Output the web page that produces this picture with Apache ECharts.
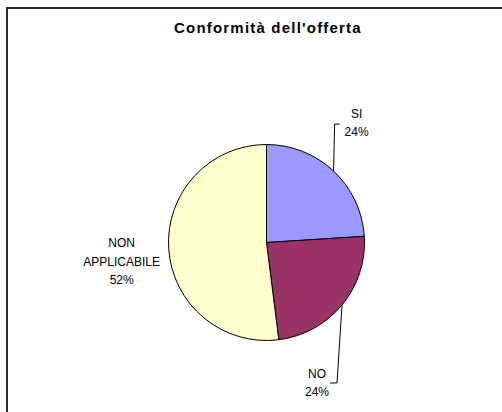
<!DOCTYPE html>
<html>
<head>
<meta charset="utf-8">
<script src="https://cdn.jsdelivr.net/npm/echarts@6/dist/echarts.min.js"></script>
<style>
  html, body { margin: 0; padding: 0; background: #fff; }
  #wrap { position: relative; width: 502px; height: 412px; overflow: hidden; background: #fff; }
  /* chart frame: only its top and left edges fall inside the view */
  #frame { position: absolute; left: 6px; top: 7px; width: 700px; height: 700px;
           border-top: 2px solid #2e2e2e; border-left: 2px solid #2e2e2e; box-sizing: border-box; }
  #chart { position: absolute; left: 0; top: 0; width: 502px; height: 412px; }
</style>
</head>
<body>
<div id="wrap">
  <div id="frame"></div>
  <div id="chart"></div>
</div>
<script>
// Data
const chartTitle = "Conformità dell'offerta";
const categories = ['SI', 'NO', 'NON APPLICABILE'];
const shares = [24, 24, 52];
const sliceColors = ['#9999FF', '#993366', '#FFFFCC'];

const FONT = "'Liberation Sans', Arial, Helvetica, sans-serif";

const chart = echarts.init(document.getElementById('chart'), null, { renderer: 'svg' });

const seriesData = categories.map((name, i) => ({
  name: name,
  value: shares[i],
  itemStyle: { color: sliceColors[i] },
  labelLine: { show: i !== 2 }
}));

// Label placement, measured from the slice's outer mid-point (first leader point)
function placeLabel(params) {
  const idx = params.dataIndex;
  const pts = params.labelLinePoints;
  const p0 = pts && pts[0] ? pts[0] : [params.rect.x, params.rect.y];
  if (idx === 0) {
    return {
      x: p0[0] + 23, y: p0[1] - 48, align: 'center', verticalAlign: 'middle',
      labelLinePoints: [p0, [p0[0] + 1, p0[1] - 47], [p0[0] + 6, p0[1] - 47]]
    };
  }
  if (idx === 1) {
    return {
      x: p0[0] - 25, y: p0[1] + 78, align: 'center', verticalAlign: 'middle',
      labelLinePoints: [p0, [p0[0] - 5, p0[1] + 78], [p0[0] - 12, p0[1] + 78]]
    };
  }
  return { x: p0[0] - 47, y: p0[1] + 13, align: 'center', verticalAlign: 'middle' };
}

chart.setOption({
  animation: false,
  backgroundColor: 'transparent',
  title: {
    text: chartTitle,
    left: 174,
    top: 20,
    padding: 0,
    textStyle: { fontFamily: FONT, fontSize: 15, fontWeight: 'bold', color: '#000' }
  },
  series: [{
    type: 'pie',
    center: [266.5, 242.5],
    radius: 98,
    startAngle: 90,
    clockwise: true,
    avoidLabelOverlap: false,
    emphasis: { disabled: true },
    itemStyle: { borderColor: '#000', borderWidth: 1 },
    label: {
      show: true,
      position: 'outside',
      formatter: p => p.name.replace(' ', '\n') + '\n' + p.value + '%',
      fontFamily: FONT,
      fontSize: 12,
      lineHeight: 18.5,
      color: '#000',
      align: 'center'
    },
    labelLine: {
      show: true,
      length: 10,
      length2: 5,
      lineStyle: { color: '#000', width: 1 }
    },
    labelLayout: placeLabel,
    data: seriesData
  }]
});

// widen the title's tracking like the original heading
document.querySelectorAll('#chart text').forEach(t => {
  if (t.textContent === chartTitle) t.style.letterSpacing = '1.2px';
});
</script>
</body>
</html>
